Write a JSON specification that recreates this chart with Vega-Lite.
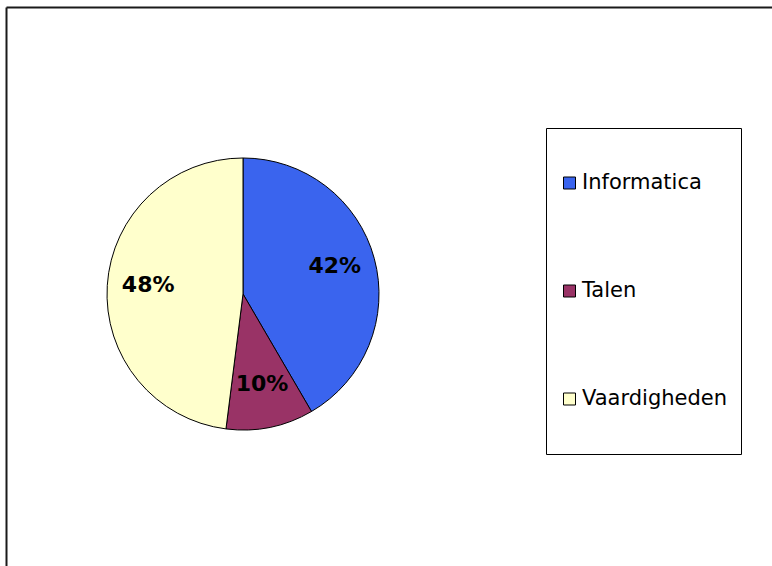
{
  "$schema": "https://vega.github.io/schema/vega-lite/v6.json",
  "width": 766,
  "height": 559,
  "autosize": {"type": "none"},
  "padding": {"left": 6, "top": 7, "right": 0, "bottom": 0},
  "background": "#ffffff",
  "config": {"view": {"stroke": null}},
  "data": {
    "values": [
      {"category": "Informatica", "share": 0.416},
      {"category": "Talen", "share": 0.104},
      {"category": "Vaardigheden", "share": 0.48}
    ]
  },
  "encoding": {
    "theta": {"field": "share", "type": "quantitative", "stack": true},
    "order": {"field": "category", "type": "ordinal", "sort": "ascending"},
    "x": {
      "datum": 0.3094,
      "type": "quantitative",
      "scale": {"domain": [0, 1]},
      "axis": {"orient": "top", "domain": true, "domainColor": "#1a1a1a", "domainWidth": 2, "ticks": false, "labels": false, "grid": false, "title": null}
    },
    "y": {
      "datum": 0.5134,
      "type": "quantitative",
      "scale": {"domain": [0, 1], "reverse": true},
      "axis": {"orient": "left", "domain": true, "domainColor": "#1a1a1a", "domainWidth": 2, "ticks": false, "labels": false, "grid": false, "title": null}
    }
  },
  "layer": [
    {
      "mark": {"type": "arc", "radius": 136, "stroke": "#000000", "strokeWidth": 1},
      "encoding": {
        "color": {
          "field": "category",
          "type": "nominal",
          "scale": {"domain": ["Informatica", "Talen", "Vaardigheden"], "range": ["#3a64ee", "#993366", "#ffffcc"]},
          "legend": {
            "orient": "none",
            "legendX": 540,
            "legendY": 121,
            "title": null,
            "symbolType": "square",
            "symbolSize": 144,
            "symbolStrokeColor": "#000000",
            "symbolStrokeWidth": 1,
            "labelFont": "DejaVu Sans",
            "labelFontSize": 21,
            "labelColor": "#000000",
            "labelOffset": 2,
            "strokeColor": "#000000",
            "fillColor": "#ffffff",
            "padding": 13,
            "clipHeight": 84,
            "rowPadding": 24
          }
        }
      }
    },
    {
      "mark": {"type": "text", "radius": 95, "dy": -3, "font": "DejaVu Sans", "fontSize": 22, "fontWeight": "bold", "fill": "#000000"},
      "encoding": {
        "detail": {"field": "category", "type": "nominal"},
        "text": {"field": "share", "type": "quantitative", "format": ".0%"}
      }
    }
  ]
}
